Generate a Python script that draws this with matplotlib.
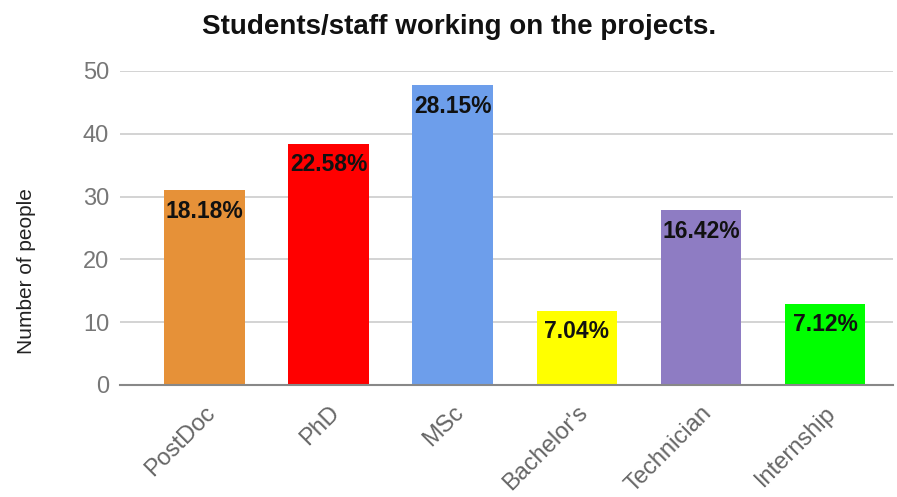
import matplotlib
matplotlib.use("Agg")
import matplotlib.pyplot as plt

categories = ["PostDoc", "PhD", "MSc", "Bachelor's", "Technician", "Internship"]
counts = [31, 38.4, 47.7, 11.8, 27.8, 12.9]
percent_labels = ["18.18%", "22.58%", "28.15%", "7.04%", "16.42%", "7.12%"]
colors = ["#E69138", "#FF0000", "#6D9EEB", "#FFFF00", "#8E7CC3", "#00FF00"]
yticks = [0, 10, 20, 30, 40, 50]

plt.rcParams['font.family'] = ['Liberation Sans', 'DejaVu Sans']

fig = plt.figure(figsize=(8.97, 4.97), dpi=100)
ax = fig.add_axes([0.134, 0.2254, 0.862, 0.632])

x = list(range(len(categories)))
bars = ax.bar(x, counts, width=0.65, color=colors, zorder=3)

for xi, c, lab in zip(x, counts, percent_labels):
    ax.annotate(lab, (xi, c), xytext=(0, -15), textcoords="offset points",
                ha="center", va="center", fontsize=16.5, fontweight="bold",
                color="#111111", zorder=4)

ax.set_xlim(-0.68, 5.55)
ax.set_ylim(0, 50)
ax.set_yticks(yticks)
ax.set_yticklabels([str(t) for t in yticks], fontsize=17, color="#777777")
ax.set_xticks(x)
ax.set_xticklabels(categories, rotation=45, ha="right", rotation_mode="anchor",
                   fontsize=17, color="#666666")
ax.tick_params(axis="y", length=0, pad=8)
ax.tick_params(axis="x", length=0, pad=12)

ax.grid(axis="y", color="#CCCCCC", linewidth=1.2, zorder=0)
for s in ["top", "right", "left"]:
    ax.spines[s].set_visible(False)
ax.spines["bottom"].set_color("#888888")
ax.spines["bottom"].set_linewidth(1.5)
ax.spines["bottom"].set_zorder(5)

fig.text(26 / 897, 1 - 271 / 497, "Number of people", rotation=90,
         ha="center", va="center", fontsize=15, color="#222222")

fig.text(0.512, 0.945, "Students/staff working on the projects.", ha="center",
         va="center", fontsize=20, fontweight="bold", color="#111111")

fig.savefig("out.png", dpi=100)
